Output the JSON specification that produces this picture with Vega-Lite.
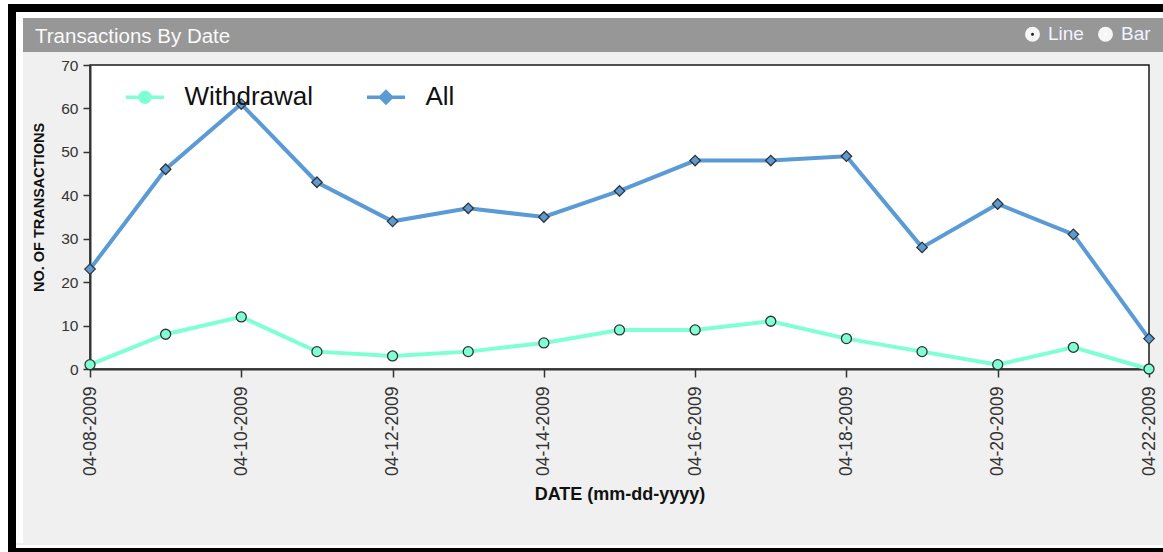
{
  "$schema": "https://vega.github.io/schema/vega-lite/v6.json",
  "background": "#f0f0f0",
  "padding": 0,
  "spacing": 0,
  "config": {"font": "Liberation Sans"},
  "resolve": {"scale": {"fill": "independent", "stroke": "independent", "shape": "independent", "color": "independent"}},
  "vconcat": [
    {"width": 1163, "height": 4, "data": {"values": [{}]}, "mark": {"type": "point", "opacity": 0, "size": 0, "strokeWidth": 0}, "view": {"fill": "#ffffff", "stroke": null}},
    {
      "spacing": 0,
      "resolve": {"scale": {"fill": "independent", "stroke": "independent", "shape": "independent", "color": "independent"}},
      "hconcat": [
        {"width": 8, "height": 552, "data": {"values": [{}]}, "mark": {"type": "point", "opacity": 0, "size": 0, "strokeWidth": 0}, "view": {"fill": "#ffffff", "stroke": null}},
        {"width": 8, "height": 552, "data": {"values": [{}]}, "mark": {"type": "point", "opacity": 0, "size": 0, "strokeWidth": 0}, "view": {"fill": "#000000", "stroke": null}},
        {
          "spacing": 0,
          "resolve": {"scale": {"fill": "independent", "stroke": "independent", "shape": "independent", "color": "independent"}},
          "vconcat": [
            {"width": 1147, "height": 8, "data": {"values": [{}]}, "mark": {"type": "point", "opacity": 0, "size": 0, "strokeWidth": 0}, "view": {"fill": "#000000", "stroke": null}},
            {"width": 1147, "height": 6, "data": {"values": [{}]}, "mark": {"type": "point", "opacity": 0, "size": 0, "strokeWidth": 0}, "view": {"fill": "#ffffff", "stroke": null}},
            {
              "spacing": 0,
              "resolve": {"scale": {"fill": "independent", "stroke": "independent", "shape": "independent", "color": "independent"}},
              "hconcat": [
                {"width": 7, "height": 525, "data": {"values": [{}]}, "mark": {"type": "point", "opacity": 0, "size": 0, "strokeWidth": 0}, "view": {"fill": "#ffffff", "stroke": null}},
                {
                  "spacing": 0,
                  "resolve": {"scale": {"fill": "independent", "stroke": "independent", "shape": "independent", "color": "independent"}},
                  "vconcat": [
                    {
                      "width": 1140,
                      "height": 34,
                      "view": {"fill": "#979797", "stroke": null},
                      "title": {"text": "Transactions By Date", "anchor": "start", "frame": "group", "orient": "top", "offset": -29, "dx": 12, "color": "#fafafa", "fontSize": 20.5, "fontWeight": "normal", "font": "Liberation Sans"},
                      "data": {"values": [{"opt": "Line"}, {"opt": "Bar"}]},
                      "mark": {"type": "point", "filled": true, "opacity": 0, "size": 0, "shape": "circle", "stroke": "#f6f6f6", "strokeWidth": 9},
                      "encoding": {
                        "fill": {
                          "field": "opt",
                          "type": "nominal",
                          "scale": {"domain": ["Line", "Bar"], "range": ["#1a1a1a", "#ffffff"]},
                          "legend": {"title": null, "orient": "none", "legendX": 1000, "legendY": 6.5, "direction": "horizontal", "symbolType": "circle", "symbolSize": 36, "symbolStrokeWidth": 9, "symbolStrokeColor": "#f6f6f6", "symbolOpacity": 1, "labelFontSize": 19, "labelColor": "#f0f4ff", "labelFont": "Liberation Sans", "labelOffset": 6, "columnPadding": 0, "padding": 0}
                        }
                      }
                    },
                    {"width": 1, "height": 1, "data": {"values": [{}]}, "mark": {"type": "point", "opacity": 0, "size": 0, "strokeWidth": 0}, "view": {"stroke": null}},
                    {
                      "spacing": 0,
                      "resolve": {"scale": {"fill": "independent", "stroke": "independent", "shape": "independent", "color": "independent"}},
                      "hconcat": [
                        {"width": 8, "height": 1, "data": {"values": [{}]}, "mark": {"type": "point", "opacity": 0, "size": 0, "strokeWidth": 0}, "view": {"stroke": null}},
                        {
                          "width": 1059,
                          "height": 304,
                          "view": {"fill": "#ffffff", "stroke": "#1a1a1a", "strokeWidth": 1.5},
                          "data": {"values": [
                            {"date": "04-08-2009", "type": "Withdrawal", "count": 1}, {"date": "04-08-2009", "type": "All", "count": 23},
                            {"date": "04-09-2009", "type": "Withdrawal", "count": 8}, {"date": "04-09-2009", "type": "All", "count": 46},
                            {"date": "04-10-2009", "type": "Withdrawal", "count": 12}, {"date": "04-10-2009", "type": "All", "count": 61},
                            {"date": "04-11-2009", "type": "Withdrawal", "count": 4}, {"date": "04-11-2009", "type": "All", "count": 43},
                            {"date": "04-12-2009", "type": "Withdrawal", "count": 3}, {"date": "04-12-2009", "type": "All", "count": 34},
                            {"date": "04-13-2009", "type": "Withdrawal", "count": 4}, {"date": "04-13-2009", "type": "All", "count": 37},
                            {"date": "04-14-2009", "type": "Withdrawal", "count": 6}, {"date": "04-14-2009", "type": "All", "count": 35},
                            {"date": "04-15-2009", "type": "Withdrawal", "count": 9}, {"date": "04-15-2009", "type": "All", "count": 41},
                            {"date": "04-16-2009", "type": "Withdrawal", "count": 9}, {"date": "04-16-2009", "type": "All", "count": 48},
                            {"date": "04-17-2009", "type": "Withdrawal", "count": 11}, {"date": "04-17-2009", "type": "All", "count": 48},
                            {"date": "04-18-2009", "type": "Withdrawal", "count": 7}, {"date": "04-18-2009", "type": "All", "count": 49},
                            {"date": "04-19-2009", "type": "Withdrawal", "count": 4}, {"date": "04-19-2009", "type": "All", "count": 28},
                            {"date": "04-20-2009", "type": "Withdrawal", "count": 1}, {"date": "04-20-2009", "type": "All", "count": 38},
                            {"date": "04-21-2009", "type": "Withdrawal", "count": 5}, {"date": "04-21-2009", "type": "All", "count": 31},
                            {"date": "04-22-2009", "type": "Withdrawal", "count": 0}, {"date": "04-22-2009", "type": "All", "count": 7}
                          ]},
                          "encoding": {
                            "x": {
                              "field": "date", "type": "ordinal", "sort": null,
                              "scale": {"type": "point", "padding": 0},
                              "axis": {
                                "title": "DATE (mm-dd-yyyy)",
                                "values": ["04-08-2009", "04-10-2009", "04-12-2009", "04-14-2009", "04-16-2009", "04-18-2009", "04-20-2009", "04-22-2009"],
                                "labelAngle": -90, "labelOverlap": false, "labelFlush": false,
                                "tickSize": 8, "tickColor": "#333333", "tickWidth": 1.5,
                                "domainColor": "#333333", "domainWidth": 2,
                                "labelPadding": 9, "labelFontSize": 17.5, "labelColor": "#333333", "labelFont": "Liberation Sans",
                                "titleFont": "Liberation Sans", "titleFontSize": 18, "titleFontWeight": "bold", "titleColor": "#111111", "titlePadding": 10,
                                "grid": false
                              }
                            },
                            "y": {
                              "field": "count", "type": "quantitative",
                              "scale": {"domain": [0, 70], "nice": false},
                              "axis": {
                                "title": "NO. OF TRANSACTIONS",
                                "values": [0, 10, 20, 30, 40, 50, 60, 70],
                                "grid": false,
                                "tickSize": 7, "tickColor": "#333333", "tickWidth": 1.5,
                                "domainColor": "#333333", "domainWidth": 2,
                                "labelPadding": 5, "labelFontSize": 15.5, "labelColor": "#333333", "labelFont": "Liberation Sans",
                                "titleFont": "Liberation Sans", "titleFontSize": 14.5, "titleFontWeight": "bold", "titleColor": "#111111", "titlePadding": 14,
                                "titleY": 142
                              }
                            }
                          },
                          "layer": [
                            {"transform": [{"filter": "datum.type === 'Withdrawal'"}], "mark": {"type": "line", "stroke": "#7fffd4", "strokeWidth": 4}},
                            {"transform": [{"filter": "datum.type === 'All'"}], "mark": {"type": "line", "stroke": "#5b9bd5", "strokeWidth": 4}},
                            {"transform": [{"filter": "datum.type === 'Withdrawal'"}], "mark": {"type": "point", "shape": "circle", "filled": true, "fill": "#7fffd4", "stroke": "#333333", "strokeWidth": 1.3, "size": 100, "opacity": 1}},
                            {"transform": [{"filter": "datum.type === 'All'"}], "mark": {"type": "point", "shape": "diamond", "filled": true, "fill": "#5b9bd5", "stroke": "#333333", "strokeWidth": 1.3, "size": 110, "opacity": 1}},
                            {
                              "mark": {"type": "point", "filled": true, "opacity": 0, "size": 0, "strokeWidth": 3.5},
                              "encoding": {
                                "shape": {"field": "type", "type": "nominal",
                                  "scale": {"domain": ["Withdrawal", "All"], "range": ["M-1,0L-0.26,0M0.26,0L1,0M0.26,0A0.26,0.26,0,1,1,-0.26,0A0.26,0.26,0,1,1,0.26,0Z", "M-1,0L-0.29,0M0.29,0L1,0M0.29,0L0,-0.29L-0.29,0L0,0.29Z"]},
                                  "legend": {"title": null, "orient": "none", "legendX": 34, "legendY": 11.25, "direction": "horizontal", "symbolSize": 1444, "symbolStrokeWidth": 3.5, "symbolOpacity": 1, "labelFontSize": 26, "labelFont": "Liberation Sans", "labelColor": "#111111", "labelOffset": 18.5, "columnPadding": 46, "padding": 0}},
                                "stroke": {"field": "type", "type": "nominal",
                                  "scale": {"domain": ["Withdrawal", "All"], "range": ["#7fffd4", "#5b9bd5"]},
                                  "legend": {"title": null, "orient": "none", "legendX": 34, "legendY": 11.25, "direction": "horizontal", "symbolSize": 1444, "symbolStrokeWidth": 3.5, "symbolOpacity": 1, "labelFontSize": 26, "labelFont": "Liberation Sans", "labelColor": "#111111", "labelOffset": 18.5, "columnPadding": 46, "padding": 0}},
                                "fill": {"field": "type", "type": "nominal",
                                  "scale": {"domain": ["Withdrawal", "All"], "range": ["#7fffd4", "#5b9bd5"]},
                                  "legend": {"title": null, "orient": "none", "legendX": 34, "legendY": 11.25, "direction": "horizontal", "symbolSize": 1444, "symbolStrokeWidth": 3.5, "symbolOpacity": 1, "labelFontSize": 26, "labelFont": "Liberation Sans", "labelColor": "#111111", "labelOffset": 18.5, "columnPadding": 46, "padding": 0}}
                              }
                            }
                          ]
                        }
                      ]
                    },
                    {"width": 1, "height": 40, "data": {"values": [{}]}, "mark": {"type": "point", "opacity": 0, "size": 0, "strokeWidth": 0}, "view": {"stroke": null}}
                  ]
                }
              ]
            },
            {"width": 1147, "height": 3, "data": {"values": [{}]}, "mark": {"type": "point", "opacity": 0, "size": 0, "strokeWidth": 0}, "view": {"fill": "#ffffff", "stroke": null}},
            {"width": 1147, "height": 10, "data": {"values": [{}]}, "mark": {"type": "point", "opacity": 0, "size": 0, "strokeWidth": 0}, "view": {"fill": "#000000", "stroke": null}}
          ]
        }
      ]
    }
  ]
}
